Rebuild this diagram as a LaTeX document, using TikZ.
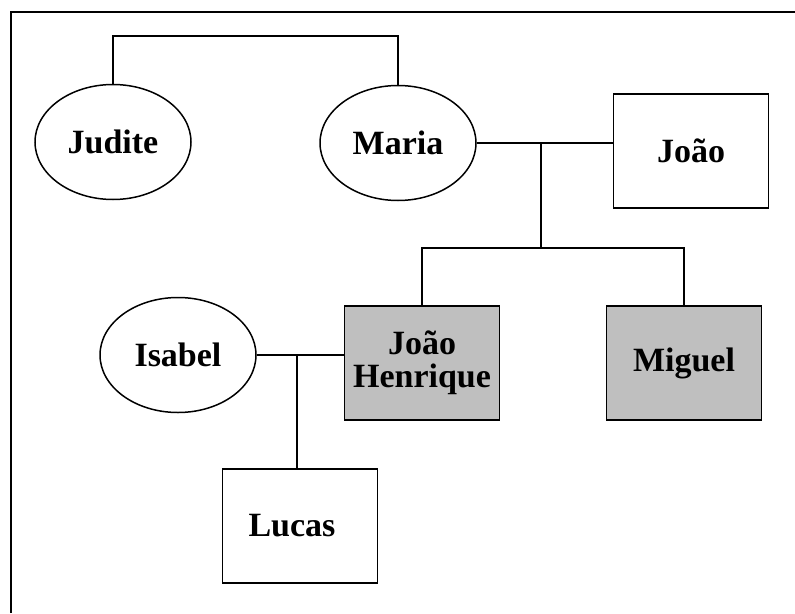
\documentclass[tikz,border=0pt]{standalone}
\usepackage{fontspec}
\setmainfont{Liberation Serif}
\usetikzlibrary{shapes.geometric}
\begin{document}
\begin{tikzpicture}[x=1pt, y=-1pt, line width=1.5pt,
			every node/.style={draw, font=\fontsize{34}{33}\selectfont\bfseries, inner sep=0pt, align=center},
			woman/.style={ellipse, minimum width=156pt, minimum height=115pt},
			man/.style={rectangle, minimum width=155pt, minimum height=114pt},
			marked/.style={fill=black!25}]

		\useasboundingbox (0,0) rectangle (795,613);
		\draw (11,613) -- (11,12) -- (795,12);

		\node[woman] (judite) at (113,142) {Judite};
		\node[woman] (maria) at (398,143) {Maria};
		\node[man] (joao) at (691,151) {João};
		\node[man, marked] (jh) at (422,363) {João\\Henrique};
		\node[man, marked] (miguel) at (684,363) {Miguel};
		\node[woman] (isabel) at (178,355) {Isabel};
		\node[man] (lucas) at (300,526) {Lucas\hspace*{16pt}};

		\coordinate (top) at (255,36);
		\coordinate (m1) at (541,143);
		\coordinate (m2) at (541,248);
		\coordinate (i1) at (297,355);

		\draw (judite.north) |- (top) -| (maria.north);
		\draw (maria.east) -- (maria.east -| joao.west);
		\draw (m1) -- (m2);
		\draw (jh.north) |- (m2) -| (miguel.north);
		\draw (isabel.east) -- (isabel.east -| jh.west);
		\draw (i1) -- (i1 |- lucas.north);
	\end{tikzpicture}
\end{document}
